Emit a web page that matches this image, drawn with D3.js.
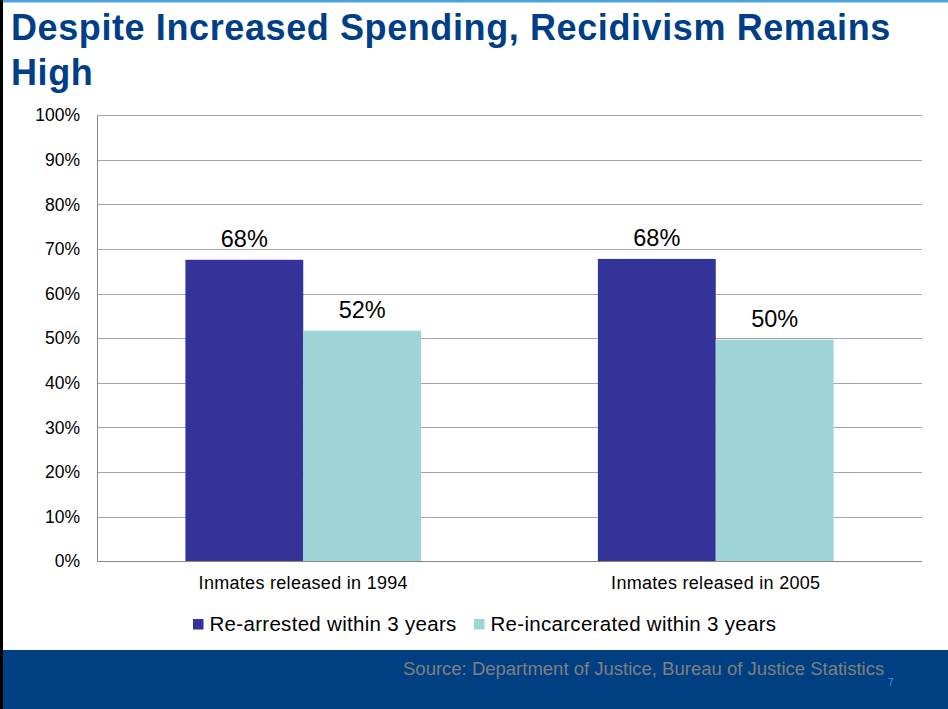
<!DOCTYPE html>
<html>
<head>
<meta charset="utf-8">
<script src="https://cdn.jsdelivr.net/npm/d3@7"></script>
<style>
  html, body { margin: 0; padding: 0; background: #fff; }
  svg { display: block; font-family: "Liberation Sans", Arial, sans-serif; }
</style>
</head>
<body>
<svg id="chart" width="948" height="709"></svg>
<script>
// Recidivism rates of released inmates by release cohort
const categories = ["Inmates released in 1994", "Inmates released in 2005"];
const seriesNames = ["Re-arrested within 3 years", "Re-incarcerated within 3 years"];
const rearrested = [67.6, 67.8];
const reincarcerated = [51.7, 49.7];
const yTicks = [0, 10, 20, 30, 40, 50, 60, 70, 80, 90, 100];
const seriesColors = ["#343399", "#9fd4d8"];

(function draw() {
  const svg = d3.select("#chart");
  const W = 948, H = 709;
  const FONT = "Liberation Sans, Arial, sans-serif";

  // slide frame: top stripe, left edge, footer band
  svg.append("rect").attr("x", 0).attr("y", 0).attr("width", W).attr("height", 2.5).attr("fill", "#4aa3df");
  svg.append("rect").attr("x", 0).attr("y", 650).attr("width", W).attr("height", H - 650).attr("fill", "#003f82");
  svg.append("rect").attr("x", 0).attr("y", 0).attr("width", 3).attr("height", H).attr("fill", "#000");

  // title
  const title = svg.append("text")
    .attr("fill", "#003f87")
    .attr("font-weight", "bold")
    .attr("font-size", 36)
    .attr("letter-spacing", 0.6);
  title.append("tspan").attr("x", 11).attr("y", 40).text("Despite Increased Spending, Recidivism Remains");
  title.append("tspan").attr("x", 11).attr("y", 85).text("High");

  // plot area
  const plotLeft = 97, plotRight = 922, plotTop = 115.3, plotBottom = 561.3;

  const y = d3.scaleLinear().domain([0, 100]).range([plotBottom, plotTop]);
  const x0 = d3.scaleBand().domain(categories).range([plotLeft, plotRight]).padding(0);
  const x1 = d3.scaleBand().domain(seriesNames).range([0, x0.bandwidth()])
    .paddingInner(0).paddingOuter(0.75);

  // gridlines
  svg.append("g")
    .selectAll("line")
    .data(yTicks.filter(t => t > 0))
    .join("line")
    .attr("x1", plotLeft).attr("x2", plotRight)
    .attr("y1", d => Math.round(y(d)) + 0.5).attr("y2", d => Math.round(y(d)) + 0.5)
    .attr("stroke", "#a6a6a6").attr("stroke-width", 1);

  // y axis labels
  const yAxis = d3.axisLeft(y).tickValues(yTicks).tickFormat(d => d + "%").tickSize(0).tickPadding(17);
  const gy = svg.append("g").attr("transform", `translate(${plotLeft},0)`).call(yAxis);
  gy.select(".domain").remove();
  gy.selectAll("text").attr("font-size", 17.5).attr("fill", "#000").attr("font-family", FONT);

  // bars
  const rows = categories.map((c, i) => ({
    category: c,
    values: [
      { series: seriesNames[0], value: rearrested[i] },
      { series: seriesNames[1], value: reincarcerated[i] }
    ]
  }));
  const color = d3.scaleOrdinal().domain(seriesNames).range(seriesColors);

  const groups = svg.append("g").selectAll("g")
    .data(rows).join("g")
    .attr("transform", d => `translate(${x0(d.category)},0)`);

  groups.selectAll("rect")
    .data(d => d.values).join("rect")
    .attr("x", d => x1(d.series))
    .attr("width", x1.bandwidth())
    .attr("y", d => y(d.value))
    .attr("height", d => y(0) - y(d.value))
    .attr("fill", d => color(d.series));

  groups.selectAll("text.val")
    .data(d => d.values).join("text")
    .attr("class", "val")
    .attr("x", d => x1(d.series) + x1.bandwidth() / 2)
    .attr("y", d => y(d.value) - 13)
    .attr("text-anchor", "middle")
    .attr("font-size", 23.5)
    .attr("fill", "#000")
    .text(d => Math.round(d.value) + "%");

  // axis lines
  const axisG = svg.append("g");
  axisG.append("line").attr("x1", plotLeft + 0.5).attr("x2", plotLeft + 0.5).attr("y1", plotTop).attr("y2", plotBottom + 0.5)
    .attr("stroke", "#868686").attr("stroke-width", 1);
  axisG.append("line").attr("x1", plotLeft).attr("x2", plotRight)
    .attr("y1", Math.round(plotBottom) + 0.5).attr("y2", Math.round(plotBottom) + 0.5)
    .attr("stroke", "#868686").attr("stroke-width", 1);

  // category labels
  const xAxis = d3.axisBottom(x0).tickSize(0).tickPadding(15);
  const gx = svg.append("g").attr("transform", `translate(0,${plotBottom})`).call(xAxis);
  gx.select(".domain").remove();
  gx.selectAll("text").attr("font-size", 18).attr("letter-spacing", 0.3)
    .attr("fill", "#000").attr("font-family", FONT);

  // legend
  const legendItems = [
    { name: seriesNames[0], x: 193 },
    { name: seriesNames[1], x: 474 }
  ];
  const legend = svg.append("g").selectAll("g")
    .data(legendItems).join("g")
    .attr("transform", d => `translate(${d.x},619)`);
  legend.append("rect").attr("width", 10.5).attr("height", 10.5).attr("fill", d => color(d.name));
  legend.append("text").attr("x", 16.5).attr("y", 12).attr("font-size", 20.5)
    .attr("letter-spacing", 0.3).attr("fill", "#000")
    .text(d => d.name);

  // footer
  svg.append("text").attr("x", 403).attr("y", 675).attr("font-size", 18.5).attr("fill", "#7f7f7f")
    .text("Source: Department of Justice, Bureau of Justice Statistics");
  svg.append("text").attr("x", 888).attr("y", 686).attr("font-size", 10.5).attr("fill", "#3d9be0")
    .text("7");
})();
</script>
</body>
</html>
